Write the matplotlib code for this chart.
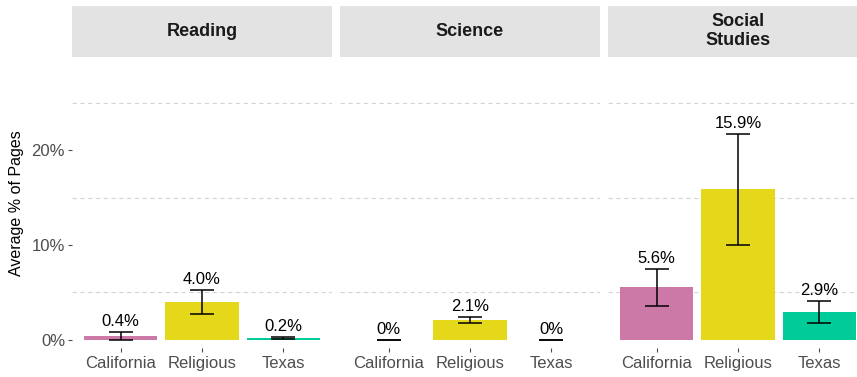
import matplotlib
matplotlib.use('Agg')
import matplotlib.pyplot as plt
from matplotlib.patches import Rectangle
from matplotlib.ticker import FixedLocator

plt.rcParams['font.family'] = ['Liberation Sans', 'DejaVu Sans']

subjects = ['Reading', 'Science', 'Social\nStudies']
sources = ['California', 'Religious', 'Texas']
colors = ['#CC79A7', '#E5D71A', '#00CC99']

# mean share of pages and error bar limits, per subject
reading_mean = [0.4, 4.0, 0.2]
reading_lo = [0.0, 2.7, 0.05]
reading_hi = [0.85, 5.3, 0.35]

science_mean = [0.0, 2.1, 0.0]
science_lo = [0.0, 1.8, 0.0]
science_hi = [0.0, 2.4, 0.0]

social_mean = [5.6, 15.9, 2.9]
social_lo = [3.6, 10.0, 1.8]
social_hi = [7.5, 21.7, 4.1]

means = [reading_mean, science_mean, social_mean]
lows = [reading_lo, science_lo, social_lo]
highs = [reading_hi, science_hi, social_hi]

W, H = 857, 377
fig = plt.figure(figsize=(W / 100, H / 100), dpi=100)

panel_left = [72, 340, 608]
panel_w = 260
panel_top, panel_bot = 60, 348
strip_top, strip_bot = 6, 56.5

def fmt(v):
    return '0%' if v == 0 else f'{v:.1f}%'

for i, subj in enumerate(subjects):
    x0 = panel_left[i]
    ax = fig.add_axes([x0 / W, (H - panel_bot) / H, panel_w / W, (panel_bot - panel_top) / H])
    xs = list(range(len(sources)))
    ax.bar(xs, means[i], width=0.9, color=colors, zorder=2)
    ax.vlines(xs, lows[i], highs[i], color='black', lw=1.1, zorder=3)
    ax.hlines(lows[i], [x - 0.15 for x in xs], [x + 0.15 for x in xs], color='black', lw=1.1, zorder=3)
    ax.hlines(highs[i], [x - 0.15 for x in xs], [x + 0.15 for x in xs], color='black', lw=1.1, zorder=3)
    for x, m, hi in zip(xs, means[i], highs[i]):
        ax.annotate(fmt(m), (x, hi), xytext=(0, 4.3), textcoords='offset points',
                    ha='center', va='baseline', fontsize=12, color='black')

    ax.set_xlim(-0.6, 2.6)
    ax.set_ylim(-0.85, 29.5)
    ax.set_xticks(xs)
    ax.set_xticklabels(sources)
    ax.yaxis.set_major_locator(FixedLocator([0, 10, 20]))
    ax.yaxis.set_minor_locator(FixedLocator([5, 15, 25]))
    ax.grid(which='minor', axis='y', color='#d4d4d4', lw=0.8, linestyle=(0, (4, 3)), zorder=0)
    ax.tick_params(axis='x', length=3, width=0.8, color='#4d4d4d', labelsize=12,
                   labelcolor='#4d4d4d', pad=2.5)
    ax.tick_params(axis='y', which='major', length=3, width=0.8, color='#4d4d4d',
                   labelsize=12, labelcolor='#4d4d4d', pad=2)
    ax.tick_params(axis='y', which='minor', length=0)
    if i == 0:
        ax.set_yticklabels(['0%', '10%', '20%'])
    else:
        ax.tick_params(axis='y', which='major', length=0, labelleft=False)
    for s in ax.spines.values():
        s.set_visible(False)

    # facet strip
    fig.patches.append(Rectangle((x0 / W, (H - strip_bot) / H), panel_w / W,
                                 (strip_bot - strip_top) / H, transform=fig.transFigure,
                                 facecolor='#e3e3e3', edgecolor='none'))
    fig.text((x0 + panel_w / 2) / W, (H - (strip_top + strip_bot) / 2) / H, subj,
             ha='center', va='center', fontsize=13, fontweight='bold',
             color='#1a1a1a', linespacing=1.15)

fig.text(17 / W, (H - 203) / H, 'Average % of Pages', rotation=90,
         ha='center', va='center', fontsize=11.5, color='black')

fig.savefig('out.png', dpi=100, facecolor='white')
